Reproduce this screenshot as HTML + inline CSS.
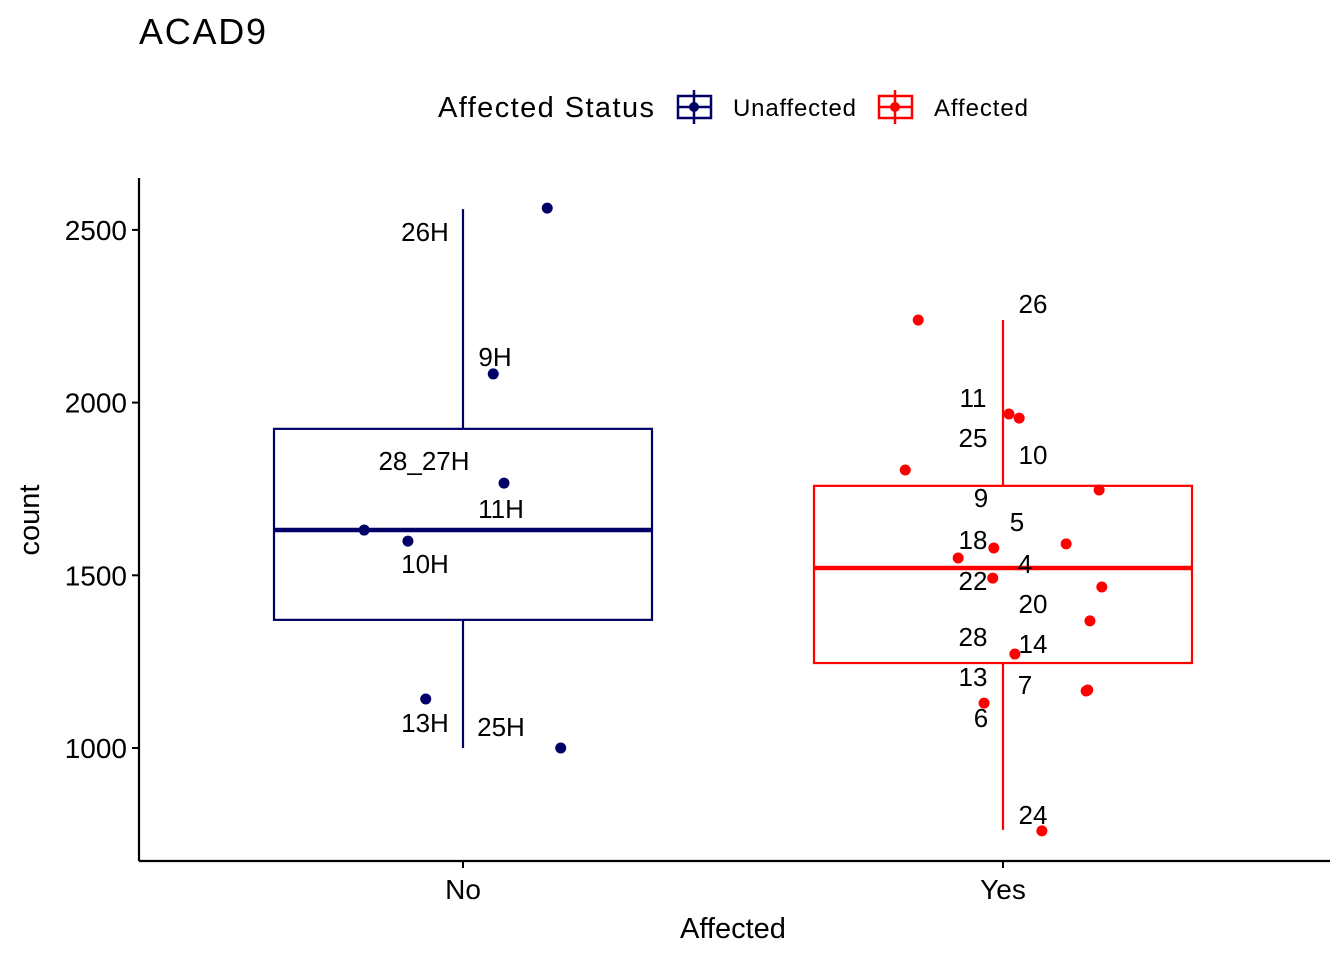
<!DOCTYPE html>
<html><head><meta charset="utf-8"><style>
body{margin:0;background:#fff;}
svg{display:block;font-family:"Liberation Sans",Arial,sans-serif;}
</style></head><body>
<svg id="chart" width="1344" height="960">
<text x="139" y="44" font-size="36" fill="#000" textLength="127">ACAD9</text>
<g>
<text x="438" y="117" font-size="29" textLength="216">Affected Status</text>
<g>
<rect x="678" y="96" width="33" height="22" fill="none" stroke="#000066" stroke-width="2.5"/>
<line x1="694" y1="90" x2="694" y2="124" stroke="#000066" stroke-width="2.5"/>
<line x1="678" y1="107" x2="711" y2="107" stroke="#000066" stroke-width="2.5"/>
<circle cx="694" cy="107" r="5" fill="#000066"/>
<text x="733" y="116" font-size="24" textLength="123">Unaffected</text></g>
<g>
<rect x="879" y="96" width="33" height="22" fill="none" stroke="#ff0000" stroke-width="2.5"/>
<line x1="895" y1="90" x2="895" y2="124" stroke="#ff0000" stroke-width="2.5"/>
<line x1="879" y1="107" x2="912" y2="107" stroke="#ff0000" stroke-width="2.5"/>
<circle cx="895" cy="107" r="5" fill="#ff0000"/>
<text x="934" y="116" font-size="24" textLength="94">Affected</text></g>
</g>
<g id="plot"></g>
</svg>
<script>
const categories=["No","Yes"];
const colors=["#000066","#ff0000"];
const yTicks=[1000,1500,2000,2500];
const boxQ1=[1371,1246];
const boxMedian=[1631,1521];
const boxQ3=[1924,1759];
const whiskerLow=[1000,763];
const whiskerHigh=[2560,2239];
const pointGroup=[0,0,0,0,0,0,0, 1,1,1,1,1,1,1,1,1,1,1,1,1,1,1,1];
const pointJitter=[0.156,0.056,0.076,-0.183,-0.102,-0.069,0.181, -0.157,0.011,0.030,-0.181,0.178,0.117,-0.017,-0.083,-0.019,0.183,0.161,0.022,0.157,0.154,-0.035,0.072];
const pointValue=[2563,2083,1767,1631,1599,1142,1000, 2239,1967,1955,1805,1747,1591,1579,1550,1492,1466,1368,1272,1168,1165,1130,760];
const labelText=["26H","9H","11H","28_27H","10H","13H","25H", "26","11","10","25","9","5","18","22","4","20","14","28","7","13","6","24"];
const labelValue=[2494,2132,1692,1831,1533,1072,1061, 2285,2013,1848,1897,1724,1654,1602,1484,1533,1417,1301,1321,1182,1206,1087,806];
const labelX=[425,495,501,424,425,425,501, 1033,973,1033,973,981,1017,973,973,1025,1033,1033,973,1025,973,981,1033];

const X0=139,Y0=861,XR=1330,YT=178;
const xCat=i=>463+i*540;
const xPos=(g,j)=>xCat(g)+j*540;
const y=v=>748-(v-1000)*172.7/500;
const NS="http://www.w3.org/2000/svg";
const plot=document.getElementById('plot');
function mk(tag,attrs,parent){const e=document.createElementNS(NS,tag);for(const k in attrs)e.setAttribute(k,attrs[k]);(parent||plot).appendChild(e);return e;}

let ax=mk('line',{x1:X0,y1:YT,x2:X0,y2:Y0,stroke:'#000','stroke-width':2.2});


ax=mk('line',{x1:X0,y1:Y0,x2:XR,y2:Y0,stroke:'#000','stroke-width':2.2});


yTicks.forEach(t=>{
  mk('line',{x1:X0-7,y1:y(t),x2:X0,y2:y(t),stroke:'#000','stroke-width':2});
  const tx=mk('text',{x:X0-12,y:y(t)+10,'font-size':28,'text-anchor':'end'});
  tx.textContent=t;
  
  
});
categories.forEach((c,i)=>{
  const tk=mk('line',{x1:xCat(i),y1:Y0,x2:xCat(i),y2:Y0+7,stroke:'#000','stroke-width':2});
  const tx=mk('text',{x:xCat(i),y:899,'font-size':28,'text-anchor':'middle'});
  tx.textContent=c;
  
  
});
let t=mk('text',{x:733,y:938,'font-size':29,'text-anchor':'middle'});
t.textContent='Affected';


t=mk('text',{x:0,y:0,'font-size':29,'text-anchor':'middle',transform:'translate(39,520) rotate(-90)'});
t.textContent='count';



categories.forEach((c,i)=>{
  const g=mk('g',{});
  
  
  const hw=189,cx=xCat(i),col=colors[i];
  mk('line',{x1:cx,y1:y(boxQ3[i]),x2:cx,y2:y(whiskerHigh[i]),stroke:col,'stroke-width':2.2},g);
  mk('line',{x1:cx,y1:y(boxQ1[i]),x2:cx,y2:y(whiskerLow[i]),stroke:col,'stroke-width':2.2},g);
  mk('rect',{x:cx-hw,y:y(boxQ3[i]),width:2*hw,height:y(boxQ1[i])-y(boxQ3[i]),fill:'none',stroke:col,'stroke-width':2.2},g);
  mk('line',{x1:cx-hw,y1:y(boxMedian[i]),x2:cx+hw,y2:y(boxMedian[i]),stroke:col,'stroke-width':4.5},g);
});
pointValue.forEach((v,k)=>{
  const c=mk('circle',{cx:xPos(pointGroup[k],pointJitter[k]),cy:y(v),r:5.5,fill:colors[pointGroup[k]]});
  
  
  const l=mk('text',{x:labelX[k],y:y(labelValue[k])+9,'font-size':26,'text-anchor':'middle'});
  l.textContent=labelText[k];
  
  
});
</script>
</body></html>
